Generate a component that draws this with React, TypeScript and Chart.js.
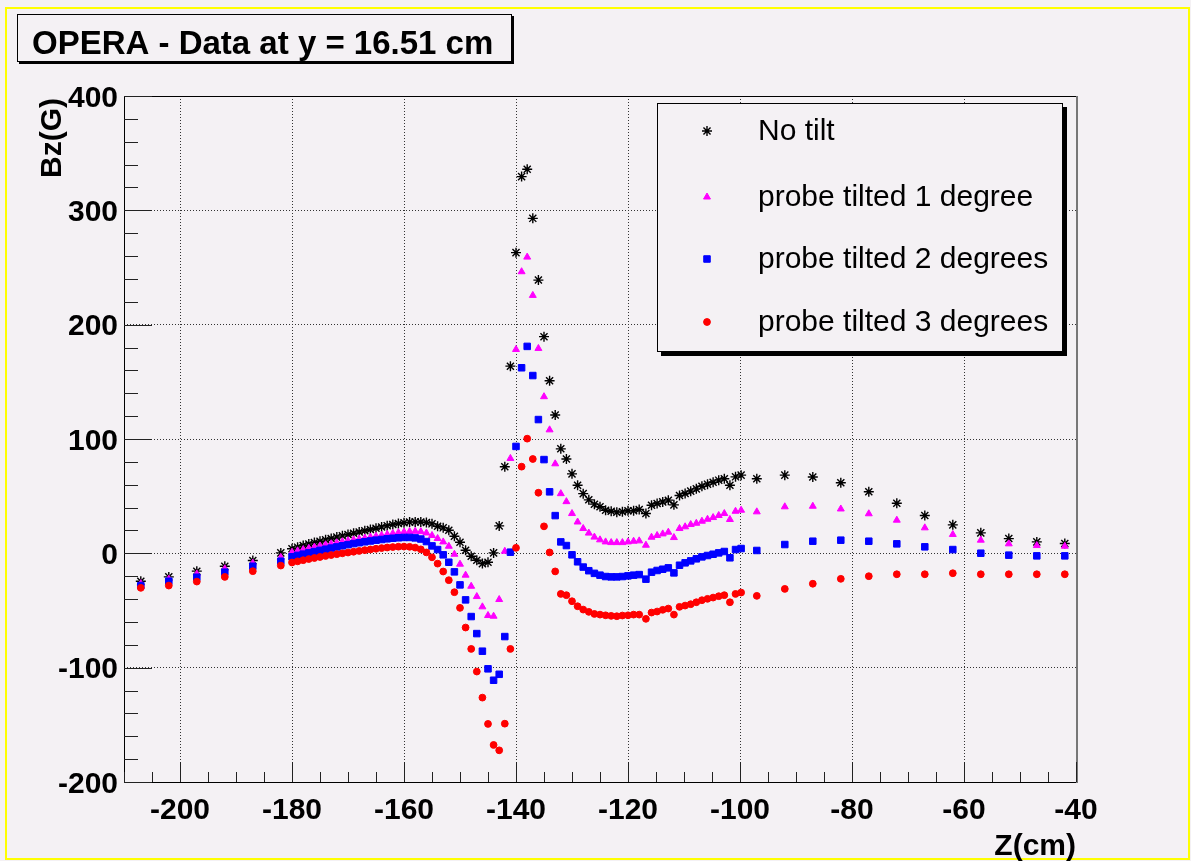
import React, { useEffect, useRef } from 'react';
import { Chart, registerables } from 'chart.js';
import { drawPoint } from 'chart.js/helpers';

Chart.register(...registerables);

// ---------------- data ----------------
const zValues = [
  -207, -202, -197, -192, -187, -182,
  -180, -179, -178, -177, -176, -175, -174, -173, -172, -171,
  -170, -169, -168, -167, -166, -165, -164, -163, -162, -161,
  -160, -159, -158, -157, -156, -155, -154, -153, -152, -151,
  -150, -149, -148, -147, -146, -145, -144, -143, -142, -141,
  -140, -139, -138, -137, -136, -135, -134, -133, -132, -131,
  -130, -129, -128, -127, -126, -125, -124, -123, -122, -121,
  -120, -119, -118,
  -116.8, -115.8, -114.8, -113.8, -112.8, -111.8, -110.8, -109.8, -108.8,
  -107.8, -106.8, -105.8, -104.8, -103.8, -102.8, -101.8, -100.8, -99.8,
  -97, -92, -87, -82, -77, -72, -67, -62, -57, -52, -47, -42,
];

const noTilt = [
  -24.4, -20.6, -15.6, -11.3, -6.3, 0.4,
  4.0, 5.4, 6.8, 8.1, 9.4, 10.6, 11.8, 13.0, 14.2, 15.3,
  16.4, 17.5, 18.6, 19.7, 20.8, 21.9, 23.1, 24.2, 25.2, 26.1,
  26.8, 27.3, 27.5, 27.4, 26.9, 25.8, 23.7, 22.3, 20.2, 15.0,
  9.7, 2.7, -2.5, -6.0, -9.0, -7.8, 0.4, 24.0, 75.7, 163.7,
  263.0, 329.5, 335.9, 293.0, 239.0, 189.5, 151.0, 121.0, 91.4, 82.5,
  69.5, 59.5, 52.2, 46.8, 43.0, 40.7, 37.7, 36.8, 36.0, 36.3,
  37.2, 37.2, 38.3,
  34.8, 42.1, 43.6, 45.0, 46.5, 42.4, 50.6, 52.3, 54.4,
  56.4, 58.7, 60.5, 62.2, 64.0, 65.2, 59.6, 66.9, 68.4,
  65.2, 68.4, 66.7, 61.8, 53.8, 43.8, 33.1, 24.9, 17.9, 12.9, 10.0, 8.6,
];

const tilt1 = [
  -26.5, -22.5, -18.0, -13.5, -8.5, -3.5,
  1.0, 2.2, 3.3, 4.4, 5.5, 6.5, 7.5, 8.4, 9.3, 10.2,
  11.0, 11.8, 12.6, 13.4, 14.2, 15.0, 15.8, 16.6, 17.4, 18.1,
  18.7, 19.1, 19.3, 19.0, 17.8, 15.6, 13.0, 10.0, 6.2, -0.8,
  -9.5, -19.1, -28.8, -37.8, -46.8, -54.4, -55.0, -40.4, 1.8, 83.0,
  178.3, 246.3, 259.1, 225.6, 179.2, 137.0, 108.0, 78.3, 52.2, 45.2,
  34.8, 27.4, 21.7, 17.7, 14.2, 11.8, 10.0, 9.4, 9.4, 9.4,
  10.0, 10.6, 10.9,
  7.1, 14.1, 15.6, 17.0, 18.5, 13.8, 21.7, 23.2, 25.2,
  26.3, 28.1, 29.8, 31.3, 33.1, 34.8, 29.6, 36.8, 37.7,
  36.3, 40.7, 41.2, 38.8, 34.6, 29.0, 22.3, 16.5, 11.5, 8.3, 6.8, 6.2,
];

const tilt2 = [
  -28.2, -24.4, -20.9, -16.5, -11.3, -6.9,
  -3.0, -1.8, -0.7, 0.4, 1.5, 2.6, 3.6, 4.6, 5.6, 6.6,
  7.6, 8.5, 9.3, 10.1, 10.8, 11.5, 12.1, 12.7, 13.2, 13.6,
  13.9, 13.9, 13.5, 12.5, 10.3, 6.5, 3.3, -1.3, -7.8, -16.2,
  -27.6, -40.7, -55.3, -70.2, -85.6, -101.0, -111.0, -105.8, -72.8, 1.0,
  93.5, 162.3, 181.0, 155.5, 117.0, 82.0, 53.8, 33.0, 10.0, 6.8,
  -1.3, -7.4, -12.0, -15.2, -17.5, -19.1, -20.3, -20.6, -20.6, -20.3,
  -19.7, -19.1, -18.6,
  -22.6, -16.5, -15.0, -13.9, -12.7, -17.1, -10.4, -8.3, -6.6,
  -4.8, -3.1, -1.9, -0.8, 0.4, 1.6, -3.9, 3.3, 4.2,
  2.5, 7.7, 10.6, 11.5, 10.6, 8.3, 5.7, 3.3, 0.1, -1.6, -2.2, -2.2,
];

const tilt3 = [
  -30.2, -28.2, -24.7, -20.6, -15.6, -10.7,
  -8.0, -7.0, -6.0, -5.0, -4.1, -3.2, -2.3, -1.5, -0.7, 0.0,
  0.7, 1.4, 2.1, 2.8, 3.4, 4.0, 4.6, 5.1, 5.5, 5.8,
  5.9, 5.7, 5.0, 3.5, 0.8, -3.5, -9.0, -15.9, -23.5, -34.0,
  -47.7, -64.9, -83.6, -103.4, -126.2, -149.2, -167.6, -172.3, -149.0, -83.6,
  4.8, 75.8, 100.3, 82.5, 53.0, 23.6, 0.8, -15.8, -35.5, -36.6,
  -41.9, -46.3, -49.2, -51.2, -53.0, -53.6, -54.2, -54.7, -55.0, -54.4,
  -54.2, -53.6, -53.6,
  -57.3, -51.8, -50.9, -49.4, -48.3, -53.6, -46.8, -45.7, -44.5,
  -42.8, -41.0, -39.8, -38.7, -37.5, -36.6, -42.8, -35.5, -34.3,
  -37.2, -31.1, -26.6, -22.3, -20.0, -18.3, -18.3, -17.4, -18.3, -18.3, -18.3, -18.3,
];

const seriesLabels = [
  'No tilt',
  'probe tilted 1 degree',
  'probe tilted 2 degrees',
  'probe tilted 3 degrees',
];
const xTickValues = [-200, -180, -160, -140, -120, -100, -80, -60, -40];
const yTickValues = [-200, -100, 0, 100, 200, 300, 400];
const titleText = 'OPERA - Data at y = 16.51 cm';
const xAxisTitle = 'Z(cm)';
const yAxisTitle = 'Bz(G)';

// ---------------- style ----------------
const W = 1191;
const H = 861;
const BG = '#f4f1f4';
const FONT = '"Liberation Sans", Arial, Helvetica, sans-serif';

const seriesStyles = [
  { pointStyle: 'star', radius: 5, color: '#000000', borderWidth: 1.4 },
  { pointStyle: 'triangle', radius: 4, color: '#ff00ff', borderWidth: 1 },
  { pointStyle: 'rect', radius: 4.6, color: '#0000ff', borderWidth: 1 },
  { pointStyle: 'circle', radius: 3.4, color: '#ff0000', borderWidth: 1 },
];
const seriesValues = [noTilt, tilt1, tilt2, tilt3];

const decorPlugin = {
  id: 'rootDecor',
  beforeDraw(chart: any) {
    const ctx = chart.ctx;
    ctx.save();
    ctx.fillStyle = BG;
    ctx.fillRect(0, 0, W, H);
    // yellow canvas highlight
    ctx.strokeStyle = '#ffff00';
    ctx.lineWidth = 2;
    ctx.strokeRect(6, 8, W - 8, H - 10);
    ctx.restore();
  },
  afterDraw(chart: any) {
    const ctx = chart.ctx;
    const area = chart.chartArea;
    const xs = chart.scales.x;
    const ys = chart.scales.y;
    ctx.save();

    // frame
    const L = Math.round(area.left), T = Math.round(area.top);
    const R = Math.round(area.right), B = Math.round(area.bottom);
    ctx.strokeStyle = '#000';
    ctx.lineWidth = 1;
    ctx.strokeRect(L + 0.5, T + 0.5, R - L, B - T);
    ctx.fillStyle = '#777';
    ctx.fillRect(R, T, 2, B - T + 1);

    // x ticks (inward)
    ctx.strokeStyle = '#222';
    ctx.beginPath();
    for (let v = -210; v <= -40; v += 5) {
      const px = Math.round(xs.getPixelForValue(v)) + 0.5;
      const len = v % 20 === 0 ? 20 : 10;
      ctx.moveTo(px, area.bottom);
      ctx.lineTo(px, area.bottom - len);
    }
    // y ticks (inward)
    for (let v = -200; v <= 400; v += 20) {
      const py = Math.round(ys.getPixelForValue(v)) + 0.5;
      const len = v % 100 === 0 ? 28 : 14;
      ctx.moveTo(area.left, py);
      ctx.lineTo(area.left + len, py);
    }
    ctx.stroke();

    // tick labels
    ctx.fillStyle = '#000';
    ctx.font = `bold 30px ${FONT}`;
    ctx.textAlign = 'center';
    ctx.textBaseline = 'alphabetic';
    xTickValues.forEach((v) => {
      ctx.fillText(String(v), xs.getPixelForValue(v), 819);
    });
    ctx.textAlign = 'right';
    yTickValues.forEach((v) => {
      ctx.fillText(String(v), area.left - 6, ys.getPixelForValue(v) + 10.5);
    });

    // axis titles
    ctx.textAlign = 'right';
    ctx.fillText(xAxisTitle, area.right, 855);
    ctx.save();
    ctx.translate(61, 98);
    ctx.rotate(-Math.PI / 2);
    ctx.textAlign = 'right';
    ctx.fillText(yAxisTitle, 0, 0);
    ctx.restore();

    // title box
    ctx.fillStyle = BG;
    ctx.fillRect(17, 14, 495, 48);
    ctx.fillStyle = '#000';
    ctx.fillRect(19, 62, 495, 2);
    ctx.fillRect(512, 16, 2, 48);
    ctx.strokeStyle = '#000';
    ctx.lineWidth = 1;
    ctx.strokeRect(17.5, 14.5, 494, 47);
    ctx.font = `bold 33px ${FONT}`;
    ctx.textAlign = 'left';
    ctx.fillText(titleText, 32, 53.5);

    // legend box
    const lx = 657, ly = 103, lw = 406, lh = 249;
    ctx.fillStyle = '#000';
    ctx.fillRect(lx + 4, ly + lh, lw, 4);
    ctx.fillRect(lx + lw, ly + 4, 4, lh);
    ctx.fillStyle = BG;
    ctx.fillRect(lx, ly, lw, lh);
    ctx.strokeRect(lx + 0.5, ly + 0.5, lw - 1, lh - 1);
    const rowY = [131, 197, 259, 322];
    ctx.font = `30px ${FONT}`;
    ctx.textAlign = 'left';
    ctx.textBaseline = 'middle';
    seriesLabels.forEach((label, i) => {
      const st = seriesStyles[i];
      ctx.fillStyle = st.color;
      ctx.strokeStyle = st.color;
      ctx.lineWidth = st.borderWidth;
      drawPoint(ctx, { pointStyle: st.pointStyle as any, radius: st.radius, rotation: 0, borderWidth: st.borderWidth }, 707, rowY[i]);
      ctx.fillStyle = '#000';
      ctx.fillText(label, 758, rowY[i] + 1);
    });

    ctx.restore();
  },
};

export default function App() {
  const canvasRef = useRef<HTMLCanvasElement | null>(null);

  useEffect(() => {
    const canvas = canvasRef.current;
    if (!canvas) return;
    const datasets = seriesValues.map((vals, i) => {
      const st = seriesStyles[i];
      return {
        label: seriesLabels[i],
        data: zValues.map((z, k) => ({ x: z, y: vals[k] })),
        pointStyle: st.pointStyle,
        pointRadius: st.radius,
        pointHoverRadius: st.radius,
        pointBorderWidth: st.borderWidth,
        borderColor: st.color,
        backgroundColor: st.color,
        showLine: false,
        order: 4 - i,
      };
    });
    const chart = new Chart(canvas, {
      type: 'scatter',
      data: { datasets } as any,
      options: {
        animation: false,
        responsive: false,
        devicePixelRatio: 1,
        events: [],
        layout: { padding: { left: 124, top: 96, right: 115, bottom: 79 } },
        plugins: {
          legend: { display: false },
          title: { display: false },
          tooltip: { enabled: false },
        },
        scales: {
          x: {
            type: 'linear',
            min: -210,
            max: -40,
            afterFit: (s: any) => { s.height = 0; },
            afterBuildTicks: (s: any) => {
              s.ticks = xTickValues.filter((v) => v > -210 && v < -40).map((v) => ({ value: v }));
            },
            ticks: { display: false },
            grid: { color: '#333', lineWidth: 1, drawTicks: false },
            border: { display: false, dash: [1, 2] },
          },
          y: {
            type: 'linear',
            min: -200,
            max: 400,
            afterFit: (s: any) => { s.width = 0; },
            afterBuildTicks: (s: any) => {
              s.ticks = yTickValues.filter((v) => v > -200 && v < 400).map((v) => ({ value: v }));
            },
            ticks: { display: false },
            grid: { color: '#333', lineWidth: 1, drawTicks: false },
            border: { display: false, dash: [1, 2] },
          },
        },
      } as any,
      plugins: [decorPlugin],
    });
    return () => chart.destroy();
  }, []);

  return (
    <div style={{ position: 'fixed', left: 0, top: 0, width: W, height: H, background: BG }}>
      <canvas ref={canvasRef} width={W} height={H} style={{ width: W, height: H, display: 'block' }} />
    </div>
  );
}
